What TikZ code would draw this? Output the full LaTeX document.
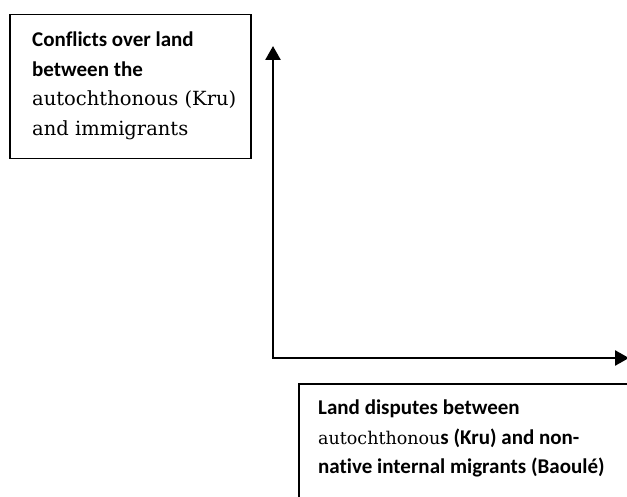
\documentclass[tikz,border=0pt]{standalone}
\usepackage{fontspec}
\setmainfont[Ligatures = CommonOff]{Carlito}
\newfontfamily\slabfont{DejaVu Serif}
\newcommand{\slab}[2]{{\slabfont\mdseries\fontsize{#1}{29.5}\selectfont #2}}
\usetikzlibrary{arrows.meta}

\begin{document}
\begin{tikzpicture}[x = 1pt, y = -1pt,
		box/.style = {draw, line width = 1.5pt, inner sep = 0pt, anchor = north west},
		boxtext/.style = {align = left, inner sep = 0pt, anchor = north west, font = \bfseries\fontsize{21}{29.5}\selectfont},
		axis/.style = {line width = 2.6pt, {Triangle[length = 14pt, width = 15pt]}-{Triangle[length = 14pt, width = 15pt]}}]
	\useasboundingbox (0,0) rectangle (627,497);
	\clip (0,0) rectangle (627,497);
	% upper left box
	\node[box, minimum width = 241, minimum height = 144] (conflictbox) at (9,14) {};
	\node[boxtext] (conflicttext) at (32,32) {Conflicts over land\\between the\\\slab{19.5}{autochthonous (Kru)}\\\slab{19.5}{and immigrants}};
	% lower right box, runs off the page
	\node[box, minimum width = 340, minimum height = 150] (disputebox) at (298,383) {};
	\node[boxtext] (disputetext) at (318,400) {Land disputes between\\\slab{17.5}{autochthonou}s (Kru) and non-\\native internal migrants (Baoulé)};
	% axes
	\coordinate (origin) at (273,358);
	\coordinate (ytop) at (273,46);
	\coordinate (xend) at (629,358);
	\draw[axis] (ytop) |- (xend);
\end{tikzpicture}
\end{document}
